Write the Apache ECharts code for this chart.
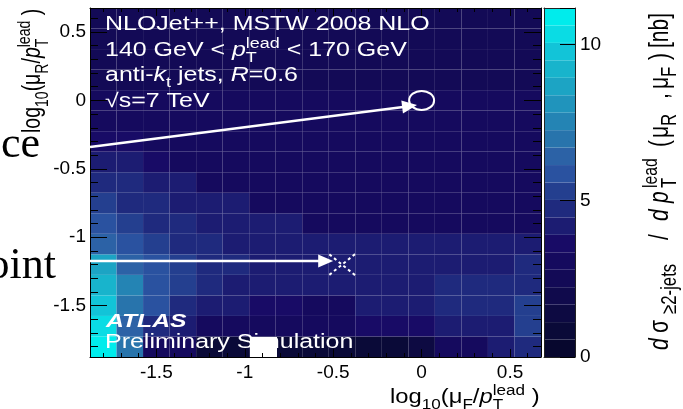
<!DOCTYPE html>
<html>
<head>
<meta charset="utf-8">
<title>Scale dependence of the dijet cross section</title>
<script src="https://cdn.jsdelivr.net/npm/echarts@6.0.0/dist/echarts.min.js"></script>
<style>
  html, body { margin: 0; padding: 0; background: #ffffff; }
  #chart { width: 683px; height: 409px; }
</style>
</head>
<body>
<div id="chart"></div>
<script>
// Bin centres of the scale scan, log10(mu / pT_lead)
const logMuF = [-1.8, -1.65, -1.5, -1.35, -1.2, -1.05, -0.9, -0.75, -0.6, -0.45, -0.3, -0.15, 0, 0.15, 0.3, 0.45, 0.6];
const logMuR = [-1.8, -1.65, -1.5, -1.35, -1.2, -1.05, -0.9, -0.75, -0.6, -0.45, -0.3, -0.15, 0, 0.15, 0.3, 0.45, 0.6];
const binWidth = 0.15;
const axisMin = -1.875;
const axisMax = 0.675;

// d sigma / d pT [nb], one array per log10(muR/pT) bin (lowest first); entries follow logMuF
const sigmaR_m180 = [11.16, 7.0, 3.1, 2.95, 0.9, 0.8, 0.7, 0.8, 0.8, 0.9, 0.9, 1.0, 1.6, 2.85, 3.0, 4.2, 4.7];
const sigmaR_m165 = [10.3, 6.4, 4.8, 4.2, 3.1, 3.0, 2.95, 2.9, 2.9, 3.0, 3.5, 3.55, 3.5, 4.1, 4.2, 4.3, 5.3];
const sigmaR_m150 = [9.8, 7.0, 5.9, 4.8, 4.2, 4.1, 3.6, 3.5, 3.2, 3.2, 4.0, 4.1, 4.1, 4.6, 4.7, 4.8, 5.45];
const sigmaR_m135 = [9.2, 7.5, 5.9, 5.3, 4.7, 4.3, 4.2, 4.1, 4.1, 4.1, 4.1, 4.2, 4.2, 4.6, 4.6, 4.7, 4.8];
const sigmaR_m120 = [8.7, 6.4, 5.9, 5.3, 4.8, 4.6, 4.3, 4.2, 4.1, 4.1, 4.1, 4.1, 4.2, 4.2, 4.3, 4.3, 4.6];
const sigmaR_m105 = [6.4, 5.9, 5.3, 4.8, 4.6, 4.3, 4.2, 4.1, 4.0, 4.0, 4.0, 4.0, 4.0, 4.1, 4.1, 4.2, 4.3];
const sigmaR_m090 = [5.9, 5.3, 4.8, 4.7, 4.3, 4.2, 4.1, 4.0, 3.3, 3.2, 3.2, 3.2, 3.2, 3.2, 3.2, 3.2, 3.3];
const sigmaR_m075 = [5.3, 4.8, 4.7, 4.3, 4.2, 4.0, 3.3, 3.2, 3.2, 3.1, 3.1, 3.1, 3.1, 3.1, 3.1, 3.1, 3.2];
const sigmaR_m060 = [4.8, 4.6, 4.2, 4.1, 3.3, 3.2, 3.1, 3.1, 3.1, 3.0, 3.0, 3.0, 3.0, 3.0, 3.0, 3.0, 3.1];
const sigmaR_m045 = [4.3, 4.1, 3.6, 3.3, 3.2, 3.1, 3.0, 3.0, 3.0, 3.0, 3.0, 2.95, 2.95, 2.95, 2.95, 2.95, 3.0];
const sigmaR_m030 = [3.8, 3.7, 3.3, 3.1, 3.0, 3.0, 2.95, 2.95, 2.9, 2.9, 2.9, 2.9, 2.9, 2.9, 2.9, 2.9, 2.9];
const sigmaR_m015 = [3.2, 3.1, 3.0, 2.95, 2.9, 2.9, 2.9, 2.9, 2.85, 2.85, 2.85, 2.85, 2.85, 2.85, 2.85, 2.85, 2.85];
const sigmaR_p000 = [3.0, 2.95, 2.9, 2.9, 2.85, 2.85, 2.9, 2.85, 2.82, 2.82, 2.82, 2.82, 2.82, 2.82, 2.82, 2.82, 2.82];
const sigmaR_p015 = [2.75, 2.72, 2.7, 2.7, 2.7, 2.7, 2.7, 2.7, 2.68, 2.68, 2.68, 2.68, 2.68, 2.68, 2.68, 2.68, 2.68];
const sigmaR_p030 = [2.62, 2.6, 2.6, 2.6, 2.6, 2.6, 2.6, 2.6, 2.58, 2.58, 2.58, 2.58, 2.58, 2.58, 2.58, 2.58, 2.58];
const sigmaR_p045 = [2.52, 2.5, 2.5, 2.5, 2.5, 2.5, 2.5, 2.5, 2.48, 2.48, 2.48, 2.48, 2.48, 2.48, 2.48, 2.48, 2.48];
const sigmaR_p060 = [2.45, 2.44, 2.43, 2.42, 2.42, 2.42, 2.42, 2.41, 2.4, 2.4, 2.4, 2.4, 2.4, 2.4, 2.4, 2.4, 2.4];
const sigmaRows = [sigmaR_m180, sigmaR_m165, sigmaR_m150, sigmaR_m135, sigmaR_m120, sigmaR_m105,
  sigmaR_m090, sigmaR_m075, sigmaR_m060, sigmaR_m045, sigmaR_m030, sigmaR_m015, sigmaR_p000,
  sigmaR_p015, sigmaR_p030, sigmaR_p045, sigmaR_p060];

// 20-contour colour scale
const zMin = 0;
const zMax = 11.16;
const contourColours = ['#07072e', '#0a0a38', '#0d0a42', '#100a4c', '#130a56', '#150a5e', '#180b66',
  '#1c1c72', '#1f2a7e', '#243f8f', '#2a52a0', '#2c62a6', '#2874ac', '#2484b4', '#2094bc',
  '#1ca4c4', '#18b4cc', '#12c4d8', '#0adce4', '#00ecec'];
const zTickLabels = [0, 5, 10];
const scaleTickLabels = [-1.5, -1, -0.5, 0, 0.5];

// markers: nominal scale choice and one varied choice, with arrows pointing at them
const nominalPoint = [0, 0];
const variedPoint = [-0.45, -1.2];
const nominalArrow = [[-1.875, -0.34], [-0.026, -0.034]];
const variedArrow = [[-1.875, -1.173], [-0.5, -1.173]];

const SANS = '"Liberation Sans", Arial, Helvetica, sans-serif';
const SERIF = '"Liberation Serif", "Times New Roman", Times, serif';
const SUP = { rel: 0.72, shift: -0.42 };
const SUB = { rel: 0.72, shift: 0.3 };

const cells = [];
sigmaRows.forEach(function (row, j) {
  row.forEach(function (v, i) { cells.push([logMuF[i], logMuR[j], v]); });
});

const step = (zMax - zMin) / contourColours.length;
const pieces = contourColours.map(function (c, k) {
  const p = { gte: zMin + k * step, color: c };
  if (k === contourColours.length - 1) p.lte = zMax; else p.lt = zMin + (k + 1) * step;
  return p;
});
const bands = contourColours.map(function (c, k) { return [zMin + k * step, zMin + (k + 1) * step, k]; });

function onList(list) {
  return function (v) {
    for (let i = 0; i < list.length; i++) if (Math.abs(list[i] - v) < 1e-6) return String(list[i]);
    return '';
  };
}

const black = { color: '#000', width: 1 };
function scaleAxis(kind, pos, withLabels) {
  const isX = kind === 'x';
  return {
    type: 'value', gridIndex: 0, position: pos, min: axisMin, max: axisMax, splitNumber: 5, z: 5,
    axisLine: { show: true, onZero: false, lineStyle: black },
    axisTick: { show: true, inside: true, length: isX ? 8 : 17, lineStyle: black },
    minorTick: { show: true, splitNumber: 5, length: isX ? 4 : 8, lineStyle: black },
    splitLine: { show: false }, minorSplitLine: { show: false },
    axisLabel: withLabels ? { show: true, formatter: onList(scaleTickLabels), color: '#000', fontSize: 19,
      fontFamily: SANS, margin: isX ? 6 : 4 } : { show: false }
  };
}
function frameAxis(pos, gridIndex, isY) {
  return { type: 'value', gridIndex: gridIndex, position: pos, min: isY ? zMin : 0, max: isY ? zMax : 1, z: 5,
    axisLine: { show: true, onZero: false, lineStyle: { color: '#222', width: 1 } },
    axisTick: { show: false }, axisLabel: { show: false }, splitLine: { show: false } };
}

const option = {
  animation: false,
  grid: [
    { left: 90, top: 8, width: 451, height: 349, containLabel: false, outerBoundsMode: 'none' },
    { left: 544, top: 8, width: 31, height: 349, containLabel: false, outerBoundsMode: 'none' }
  ],
  xAxis: [
    scaleAxis('x', 'bottom', true),
    scaleAxis('x', 'top', false),
    frameAxis('bottom', 1, false),
    frameAxis('top', 1, false)
  ],
  yAxis: [
    scaleAxis('y', 'left', true),
    scaleAxis('y', 'right', false),
    {
      type: 'value', gridIndex: 1, position: 'right', min: zMin, max: zMax, interval: 5, z: 5,
      axisLine: { show: true, onZero: false, lineStyle: { color: '#222', width: 1 } },
      axisTick: { show: true, inside: true, length: 15, lineStyle: black },
      splitLine: { show: false },
      axisLabel: { show: true, formatter: onList(zTickLabels), color: '#000', fontSize: 19, fontFamily: SANS, margin: 5 }
    },
    frameAxis('left', 1, true)
  ],
  visualMap: { type: 'piecewise', show: false, seriesIndex: 0, dimension: 2, pieces: pieces },
  series: [
    {
      type: 'custom', name: 'sigma', xAxisIndex: 0, yAxisIndex: 0, data: cells, clip: true,
      encode: { x: 0, y: 1 },
      renderItem: function (params, api) {
        const x = api.value(0), y = api.value(1);
        const a = api.coord([x - binWidth / 2, y + binWidth / 2]);
        const b = api.coord([x + binWidth / 2, y - binWidth / 2]);
        return { type: 'rect', shape: { x: a[0], y: a[1], width: b[0] - a[0], height: b[1] - a[1] },
          style: { fill: api.visual('color') } };
      }
    },
    {
      type: 'custom', name: 'palette', xAxisIndex: 2, yAxisIndex: 2, data: bands, clip: true,
      encode: { y: [0, 1] },
      renderItem: function (params, api) {
        const lo = api.value(0), hi = api.value(1), k = api.value(2);
        const a = api.coord([0, hi]);
        const b = api.coord([1, lo]);
        return { type: 'rect', shape: { x: a[0], y: a[1], width: b[0] - a[0], height: b[1] - a[1] },
          style: { fill: contourColours[k] } };
      }
    }
  ]
};

const chart = echarts.init(document.getElementById('chart'), null, { renderer: 'canvas' });
chart.setOption(option);

// ---- text with sub/superscripts, laid out piece by piece ----
const measureCtx = document.createElement('canvas').getContext('2d');
function textWidth(t, fs, it, b, fam) {
  measureCtx.font = (it ? 'italic ' : '') + (b ? 'bold ' : '') + fs + 'px ' + fam;
  return measureCtx.measureText(t).width;
}
// distance from the alphabetic baseline up to the centre used by verticalAlign: 'middle'
const MID = 0.26;
function runChildren(pieces, size, fam, fill, z) {
  const kids = [];
  let x = 0;
  pieces.forEach(function (p) {
    if (p.at !== undefined) x = p.at;
    const parts = p.stack || [p];
    let adv = 0;
    parts.forEach(function (q) {
      const fs = size * (q.rel || 1);
      const base = (q.shift || 0) * size;
      kids.push({
        type: 'text', x: x, y: base - MID * fs, z: z, silent: true,
        style: { text: q.t, fill: fill, fontSize: fs, fontFamily: fam,
          fontStyle: q.it ? 'italic' : 'normal', fontWeight: q.b ? 'bold' : 'normal',
          align: 'left', verticalAlign: 'middle', textAlign: 'left', textVerticalAlign: 'middle' }
      });
      adv = Math.max(adv, textWidth(q.t, fs, q.it, q.b, fam));
    });
    x += adv + (p.gap || 0);
  });
  return { kids: kids, width: x };
}
function label(pieces, size, x, y, o) {
  o = o || {};
  const fam = o.family || SANS;
  const z = o.z || 50;
  const r = runChildren(pieces, size, fam, o.fill || '#000', z);
  const stretch = o.stretch || 1;
  let gx = x;
  if (o.alignRight) gx = x - r.width * stretch;
  return {
    type: 'group', x: gx, y: y, z: z, silent: true,
    rotation: o.rotate ? Math.PI / 2 : 0,
    scaleX: o.rotate ? 1 : stretch,
    scaleY: o.rotate ? stretch : 1,
    children: r.kids
  };
}

const W = '#ffffff';
const S = 1.28;
const graphics = [];

// legend block
graphics.push(label([{ t: 'NLOJet++, MSTW 2008 NLO' }], 19.5, 105, 30, { fill: W, stretch: S }));
graphics.push(label([{ t: '140 GeV < ' }, { t: 'p', it: true },
  { stack: [Object.assign({ t: 'lead' }, SUP), Object.assign({ t: 'T' }, SUB)] }, { t: ' < 170 GeV' }],
  19.5, 105, 55.5, { fill: W, stretch: S }));
graphics.push(label([{ t: 'anti-' }, { t: 'k', it: true }, Object.assign({ t: 't' }, SUB), { t: ' jets, ' },
  { t: 'R', it: true }, { t: '=0.6' }], 19.5, 105, 81, { fill: W, stretch: S }));
graphics.push(label([{ t: '√s=7 TeV' }], 19.5, 105, 106.5, { fill: W, stretch: S }));
graphics.push(label([{ t: 'ATLAS', it: true, b: true }], 19, 106, 327, { fill: W, stretch: 1.3 }));
graphics.push(label([{ t: 'Preliminary Simulation' }], 19.5, 105, 348, { fill: W, stretch: S }));

// axis titles
graphics.push(label([{ t: 'log' }, Object.assign({ t: '10' }, SUB), { t: '(μ' }, Object.assign({ t: 'R' }, SUB),
  { t: '/' }, { t: 'p', it: true }, { stack: [Object.assign({ t: 'lead' }, SUP), Object.assign({ t: 'T' }, SUB)] },
  { t: ' )' }], 19.5, 40, 133, { rotate: true, stretch: S }));
graphics.push(label([{ t: 'log' }, Object.assign({ t: '10' }, SUB), { t: '(μ' }, Object.assign({ t: 'F' }, SUB),
  { t: '/' }, { t: 'p', it: true }, { stack: [Object.assign({ t: 'lead' }, SUP), Object.assign({ t: 'T' }, SUB)] },
  { t: ' )' }], 19.5, 390, 403, { stretch: 1.22 }));
const ZSUB = { rel: 0.8, shift: 0.3 };
const ZSUP = { rel: 0.75, shift: -0.42 };
graphics.push(label([
  { t: 'd', it: true, at: 0 }, { t: 'σ', at: 17 }, Object.assign({ t: '≥2-jets', at: 36 }, ZSUB),
  { t: '/', at: 110 }, { t: 'd', it: true, at: 129 }, { t: 'p', it: true, at: 147 },
  { stack: [Object.assign({ t: 'lead' }, ZSUP), Object.assign({ t: 'T' }, ZSUB)], at: 162 },
  { t: '(', at: 203 }, { t: 'μ', at: 212 }, Object.assign({ t: 'R', at: 224 }, ZSUB),
  { t: ',', at: 251 }, { t: 'μ', at: 261 }, Object.assign({ t: 'F', at: 273 }, ZSUB),
  { t: ')', at: 290 }, { t: '[nb]', at: 302 }
], 21, 668, 350, { rotate: true, stretch: S }));

// text fragments at the left margin
graphics.push(label([{ t: 'ce' }], 44, 40, 157, { family: SERIF, alignRight: true }));
graphics.push(label([{ t: 'oint' }], 44, 56, 278, { family: SERIF, alignRight: true }));

// white patch over the lower frame
graphics.push({ type: 'rect', z: 4, silent: true, shape: { x: 250, y: 337, width: 27, height: 20 }, style: { fill: W } });

// arrows and markers placed through the plot's own coordinate system
function toPx(v) { return chart.convertToPixel({ seriesIndex: 0 }, v); }
function arrow(seg) {
  const a = toPx(seg[0]), b = toPx(seg[1]);
  const ang = Math.atan2(b[1] - a[1], b[0] - a[0]);
  const L = 15, H = 6.5;
  const bx = b[0] - L * Math.cos(ang), by = b[1] - L * Math.sin(ang);
  graphics.push({ type: 'line', z: 60, silent: true, shape: { x1: a[0], y1: a[1], x2: bx + 1, y2: by },
    style: { stroke: W, lineWidth: 2.5 } });
  graphics.push({ type: 'polygon', z: 60, silent: true, shape: { points: [[b[0], b[1]],
    [bx - H * Math.sin(ang), by + H * Math.cos(ang)], [bx + H * Math.sin(ang), by - H * Math.cos(ang)]] },
    style: { fill: W } });
}
arrow(nominalArrow);
arrow(variedArrow);
const c0 = toPx(nominalPoint);
graphics.push({ type: 'ellipse', z: 60, silent: true, shape: { cx: c0[0], cy: c0[1], rx: 12.5, ry: 9.5 },
  style: { fill: null, stroke: W, lineWidth: 2 } });
const c1 = toPx(variedPoint);
[[-1, -1], [-1, 1]].forEach(function (d) {
  graphics.push({ type: 'line', z: 60, silent: true,
    shape: { x1: c1[0] - 13 * d[0], y1: c1[1] - 10.5 * d[1], x2: c1[0] + 13 * d[0], y2: c1[1] + 10.5 * d[1] },
    style: { stroke: W, lineWidth: 2, lineDash: [3, 3] } });
});

chart.setOption({ graphic: { elements: graphics } });
</script>
</body>
</html>
